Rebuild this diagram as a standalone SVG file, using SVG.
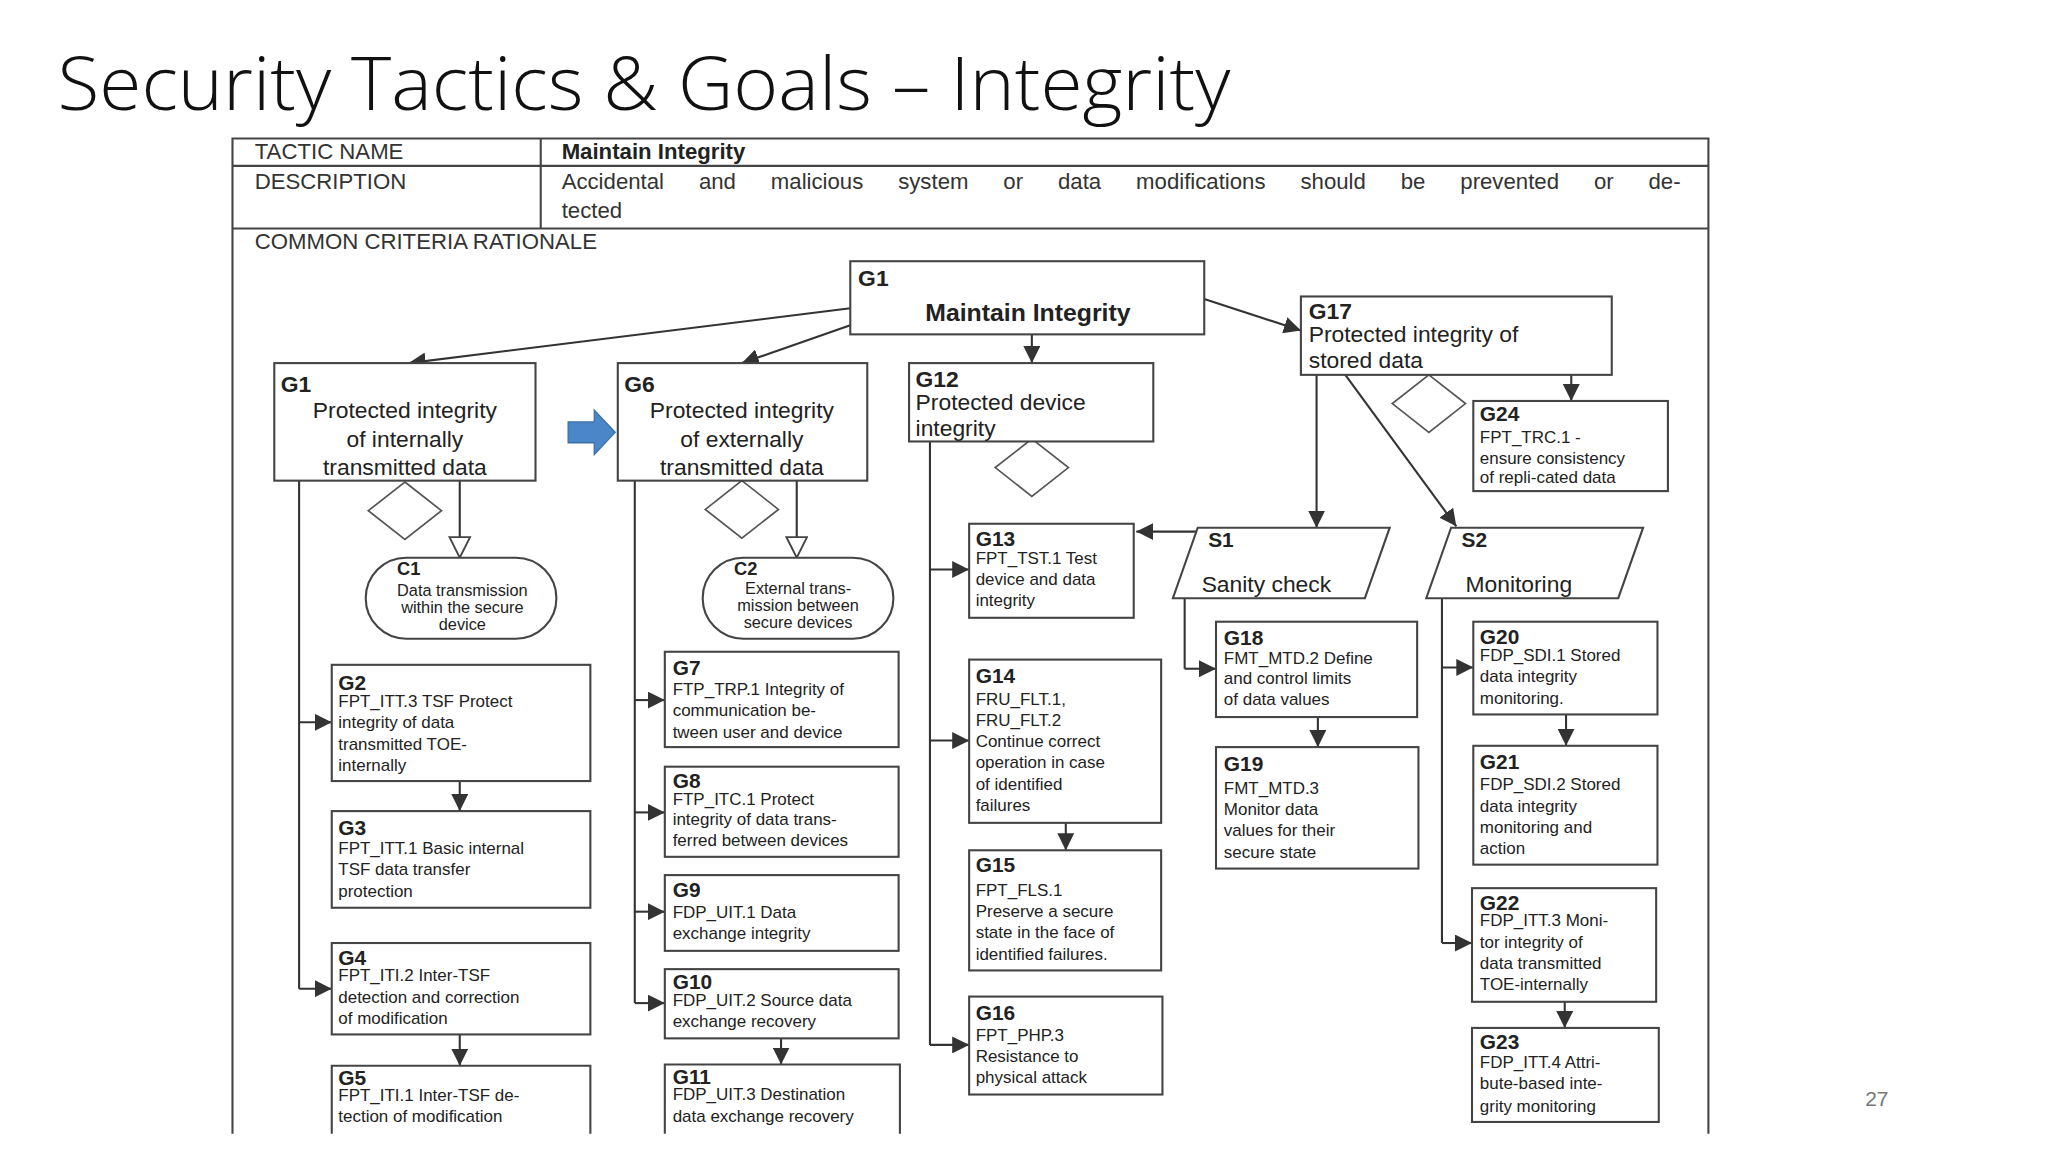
<svg xmlns="http://www.w3.org/2000/svg" width="2048" height="1152" viewBox="0 0 2048 1152">
<style>
text{font-family:"Liberation Sans",Arial,sans-serif;fill:#222}
.title{font-family:"Open Sans","Liberation Sans",sans-serif;font-weight:300;font-size:56px;fill:#111}
.hd{font-size:17px;fill:#333}
.bx{fill:#fff;stroke:#444;stroke-width:1.6}
.big{font-size:17.5px}
.sm{font-size:13px}
.b{font-weight:bold}
.ln{fill:none;stroke:#333;stroke-width:1.6}
.dm{fill:#fff;stroke:#555;stroke-width:1.3}
</style>
<defs>
<marker id="a" viewBox="0 0 10 10" refX="10" refY="5" markerWidth="13" markerHeight="13" markerUnits="userSpaceOnUse" orient="auto"><path d="M0,0L10,5L0,10z" fill="#333"/></marker>
<marker id="h" viewBox="0 0 14 16" refX="14" refY="8" markerWidth="20" markerHeight="18" markerUnits="userSpaceOnUse" orient="auto"><path d="M0,1L14,8L0,15z" fill="#fff" stroke="#444" stroke-width="1.3"/></marker>
</defs>
<rect width="2048" height="1152" fill="#fff"/>
<g transform="scale(1.30612)">
<text class="title" x="44" y="84" textLength="898" lengthAdjust="spacingAndGlyphs">Security Tactics &amp; Goals – Integrity</text>
<text x="1428" y="847" font-size="16" style="fill:#777">27</text>
<g id="table">
<path d="M178,868V106H1308V868M178,127H1308M178,175H1308M414,106V175" fill="none" stroke="#444" stroke-width="1.6"/>
<text class="hd" x="195" y="122">TACTIC NAME</text>
<text class="hd b" x="430" y="122" style="fill:#222">Maintain Integrity</text>
<text class="hd" x="195" y="145">DESCRIPTION</text>
<text class="hd" x="430" y="145" word-spacing="22">Accidental and malicious system or data modifications should be prevented or de-</text>
<text class="hd" x="430" y="167">tected</text>
<text class="hd" x="195" y="191">COMMON CRITERIA RATIONALE</text>
</g>
<g id="connectors">
<line class="ln" x1="651" y1="236" x2="313" y2="278" marker-end="url(#a)"/>
<line class="ln" x1="651" y1="249" x2="568" y2="278" marker-end="url(#a)"/>
<line class="ln" x1="790" y1="256" x2="790" y2="278" marker-end="url(#a)"/>
<line class="ln" x1="922" y1="229" x2="996" y2="253" marker-end="url(#a)"/>
<line class="ln" x1="1203" y1="287" x2="1203" y2="307" marker-end="url(#a)"/>
<line class="ln" x1="1008" y1="287" x2="1008" y2="404" marker-end="url(#a)"/>
<line class="ln" x1="1030" y1="287" x2="1115" y2="403" marker-end="url(#a)"/>
<line class="ln" x1="917" y1="407" x2="870" y2="407" marker-end="url(#a)"/>
<line class="ln" x1="352" y1="368" x2="352" y2="427" marker-end="url(#h)"/>
<line class="ln" x1="610" y1="368" x2="610" y2="427" marker-end="url(#h)"/>
<path class="ln" d="M229,368V757"/>
<line class="ln" x1="229" y1="553" x2="254" y2="553" marker-end="url(#a)"/>
<line class="ln" x1="229" y1="757" x2="254" y2="757" marker-end="url(#a)"/>
<line class="ln" x1="352" y1="598" x2="352" y2="621" marker-end="url(#a)"/>
<line class="ln" x1="352" y1="792" x2="352" y2="816" marker-end="url(#a)"/>
<path class="ln" d="M486,368V768"/>
<line class="ln" x1="486" y1="536" x2="509" y2="536" marker-end="url(#a)"/>
<line class="ln" x1="486" y1="622" x2="509" y2="622" marker-end="url(#a)"/>
<line class="ln" x1="486" y1="698" x2="509" y2="698" marker-end="url(#a)"/>
<line class="ln" x1="486" y1="768" x2="509" y2="768" marker-end="url(#a)"/>
<line class="ln" x1="598" y1="795" x2="598" y2="815" marker-end="url(#a)"/>
<path class="ln" d="M712,338V800"/>
<line class="ln" x1="712" y1="436" x2="742" y2="436" marker-end="url(#a)"/>
<line class="ln" x1="712" y1="567" x2="742" y2="567" marker-end="url(#a)"/>
<line class="ln" x1="712" y1="800" x2="742" y2="800" marker-end="url(#a)"/>
<line class="ln" x1="816" y1="630" x2="816" y2="651" marker-end="url(#a)"/>
<path class="ln" d="M907,458V512"/>
<line class="ln" x1="907" y1="512" x2="931" y2="512" marker-end="url(#a)"/>
<line class="ln" x1="1009" y1="549" x2="1009" y2="572" marker-end="url(#a)"/>
<path class="ln" d="M1104,458V722"/>
<line class="ln" x1="1104" y1="511" x2="1128" y2="511" marker-end="url(#a)"/>
<line class="ln" x1="1104" y1="722" x2="1127" y2="722" marker-end="url(#a)"/>
<line class="ln" x1="1199" y1="547" x2="1199" y2="571" marker-end="url(#a)"/>
<line class="ln" x1="1198" y1="767" x2="1198" y2="787" marker-end="url(#a)"/>
</g>
<g id="decor">
<path d="M310,369L338,391L310,413L282,391z" class="dm"/>
<path d="M568,368L596,390L568,412L540,390z" class="dm"/>
<path d="M790,336L818,358L790,380L762,358z" class="dm"/>
<path d="M1094,287L1122,309L1094,331L1066,309z" class="dm"/>
<path d="M435,323H455V314L471,331L455,348V339H435z" fill="#4a86c8" stroke="#3a70aa"/>
</g>
<g id="G1top"><rect class="bx" x="651" y="200" width="271" height="56" stroke-width="2.6"/><text class="big b" x="657" y="219">G1</text><text class="b" x="787" y="246" font-size="19" text-anchor="middle">Maintain Integrity</text></g>
<g id="G17"><rect class="bx" x="996" y="227" width="238" height="60"/><text class="big b" x="1002" y="244">G17</text><text class="big" x="1002" y="262">Protected integrity of</text><text class="big" x="1002" y="282">stored data</text></g>
<g id="G1"><rect class="bx" x="210" y="278" width="200" height="90"/><text class="big b" x="215" y="300">G1</text><g class="big" text-anchor="middle"><text x="310" y="320">Protected integrity</text><text x="310" y="342">of internally</text><text x="310" y="364">transmitted data</text></g></g>
<g id="G6"><rect class="bx" x="473" y="278" width="191" height="90"/><text class="big b" x="478" y="300">G6</text><g class="big" text-anchor="middle"><text x="568" y="320">Protected integrity</text><text x="568" y="342">of externally</text><text x="568" y="364">transmitted data</text></g></g>
<g id="G12"><rect class="bx" x="696" y="278" width="187" height="60"/><text class="big b" x="701" y="296">G12</text><text class="big" x="701" y="314">Protected device</text><text class="big" x="701" y="334">integrity</text></g>
<g id="G24"><rect class="bx" x="1128" y="307" width="149" height="69"/><text class="b" font-size="16" x="1133" y="322">G24</text><g class="sm"><text x="1133" y="339">FPT_TRC.1 -</text><text x="1133" y="355">ensure consistency</text><text x="1133" y="370">of repli-cated data</text></g></g>
<g id="C1"><rect class="bx" x="280" y="427" width="146" height="62" rx="31"/><text class="b" font-size="14" x="304" y="440">C1</text><g font-size="12.5" text-anchor="middle"><text x="354" y="456">Data transmission</text><text x="354" y="469">within the secure</text><text x="354" y="482">device</text></g></g>
<g id="C2"><rect class="bx" x="538" y="427" width="146" height="62" rx="31"/><text class="b" font-size="14" x="562" y="440">C2</text><g font-size="12.5" text-anchor="middle"><text x="611" y="455">External trans-</text><text x="611" y="468">mission between</text><text x="611" y="481">secure devices</text></g></g>
<g id="S1"><path d="M917,404H1064L1045,458H898z" class="bx"/><text class="b" font-size="16" x="925" y="419">S1</text><text class="big" x="920" y="453">Sanity check</text></g>
<g id="S2"><path d="M1111,404H1258L1239,458H1092z" class="bx"/><text class="b" font-size="16" x="1119" y="419">S2</text><text class="big" x="1122" y="453">Monitoring</text></g>
<g id="G2"><rect class="bx" x="254" y="509" width="198" height="89"/><text class="b" font-size="16" x="259" y="528">G2</text><g class="sm"><text x="259" y="541">FPT_ITT.3 TSF Protect</text><text x="259" y="557">integrity of data</text><text x="259" y="574">transmitted TOE-</text><text x="259" y="590">internally</text></g></g>
<g id="G3"><rect class="bx" x="254" y="621" width="198" height="74"/><text class="b" font-size="16" x="259" y="639">G3</text><g class="sm"><text x="259" y="654">FPT_ITT.1 Basic internal</text><text x="259" y="670">TSF data transfer</text><text x="259" y="687">protection</text></g></g>
<g id="G4"><rect class="bx" x="254" y="722" width="198" height="70"/><text class="b" font-size="16" x="259" y="739">G4</text><g class="sm"><text x="259" y="751">FPT_ITI.2 Inter-TSF</text><text x="259" y="768">detection and correction</text><text x="259" y="784">of modification</text></g></g>
<g id="G5"><path class="bx" d="M254,868V816H452V868"/><text class="b" font-size="16" x="259" y="831">G5</text><g class="sm"><text x="259" y="843">FPT_ITI.1 Inter-TSF de-</text><text x="259" y="859">tection  of modification</text></g></g>
<g id="G7"><rect class="bx" x="509" y="499" width="179" height="73"/><text class="b" font-size="16" x="515" y="517">G7</text><g class="sm"><text x="515" y="532">FTP_TRP.1 Integrity of</text><text x="515" y="548">communication be-</text><text x="515" y="565">tween user and device</text></g></g>
<g id="G8"><rect class="bx" x="509" y="587" width="179" height="69"/><text class="b" font-size="16" x="515" y="603">G8</text><g class="sm"><text x="515" y="616">FTP_ITC.1 Protect</text><text x="515" y="632">integrity of data trans-</text><text x="515" y="648">ferred between devices</text></g></g>
<g id="G9"><rect class="bx" x="509" y="670" width="179" height="58"/><text class="b" font-size="16" x="515" y="687">G9</text><g class="sm"><text x="515" y="703">FDP_UIT.1 Data</text><text x="515" y="719">exchange integrity</text></g></g>
<g id="G10"><rect class="bx" x="509" y="742" width="179" height="53"/><text class="b" font-size="16" x="515" y="757">G10</text><g class="sm"><text x="515" y="770">FDP_UIT.2 Source data</text><text x="515" y="786">exchange recovery</text></g></g>
<g id="G11"><path class="bx" d="M509,868V815H689V868"/><text class="b" font-size="16" x="515" y="830">G11</text><g class="sm"><text x="515" y="842">FDP_UIT.3 Destination</text><text x="515" y="859">data exchange recovery</text></g></g>
<g id="G13"><rect class="bx" x="742" y="401" width="126" height="72"/><text class="b" font-size="16" x="747" y="418">G13</text><g class="sm"><text x="747" y="432">FPT_TST.1 Test</text><text x="747" y="448">device and data</text><text x="747" y="464">integrity</text></g></g>
<g id="G14"><rect class="bx" x="742" y="505" width="147" height="125"/><text class="b" font-size="16" x="747" y="523">G14</text><g class="sm"><text x="747" y="540">FRU_FLT.1,</text><text x="747" y="556">FRU_FLT.2</text><text x="747" y="572">Continue correct</text><text x="747" y="588">operation in case</text><text x="747" y="605">of identified</text><text x="747" y="621">failures</text></g></g>
<g id="G15"><rect class="bx" x="742" y="651" width="147" height="92"/><text class="b" font-size="16" x="747" y="668">G15</text><g class="sm"><text x="747" y="686">FPT_FLS.1</text><text x="747" y="702">Preserve a secure</text><text x="747" y="718">state in the face of</text><text x="747" y="735">identified failures.</text></g></g>
<g id="G16"><rect class="bx" x="742" y="763" width="148" height="75"/><text class="b" font-size="16" x="747" y="781">G16</text><g class="sm"><text x="747" y="797">FPT_PHP.3</text><text x="747" y="813">Resistance to</text><text x="747" y="829">physical attack</text></g></g>
<g id="G18"><rect class="bx" x="931" y="476" width="154" height="73"/><text class="b" font-size="16" x="937" y="494">G18</text><g class="sm"><text x="937" y="508">FMT_MTD.2 Define</text><text x="937" y="524">and control limits</text><text x="937" y="540">of data values</text></g></g>
<g id="G19"><rect class="bx" x="931" y="572" width="155" height="93"/><text class="b" font-size="16" x="937" y="590">G19</text><g class="sm"><text x="937" y="608">FMT_MTD.3</text><text x="937" y="624">Monitor data</text><text x="937" y="640">values for their</text><text x="937" y="657">secure state</text></g></g>
<g id="G20"><rect class="bx" x="1128" y="476" width="141" height="71"/><text class="b" font-size="16" x="1133" y="493">G20</text><g class="sm"><text x="1133" y="506">FDP_SDI.1 Stored</text><text x="1133" y="522">data integrity</text><text x="1133" y="539">monitoring.</text></g></g>
<g id="G21"><rect class="bx" x="1128" y="571" width="141" height="91"/><text class="b" font-size="16" x="1133" y="589">G21</text><g class="sm"><text x="1133" y="605">FDP_SDI.2 Stored</text><text x="1133" y="622">data integrity</text><text x="1133" y="638">monitoring and</text><text x="1133" y="654">action</text></g></g>
<g id="G22"><rect class="bx" x="1127" y="680" width="141" height="87"/><text class="b" font-size="16" x="1133" y="697">G22</text><g class="sm"><text x="1133" y="709">FDP_ITT.3 Moni-</text><text x="1133" y="726">tor integrity of</text><text x="1133" y="742">data transmitted</text><text x="1133" y="758">TOE-internally</text></g></g>
<g id="G23"><rect class="bx" x="1127" y="787" width="143" height="72"/><text class="b" font-size="16" x="1133" y="803">G23</text><g class="sm"><text x="1133" y="818">FDP_ITT.4 Attri-</text><text x="1133" y="834">bute-based inte-</text><text x="1133" y="851">grity monitoring</text></g></g>
</g>
</svg>
